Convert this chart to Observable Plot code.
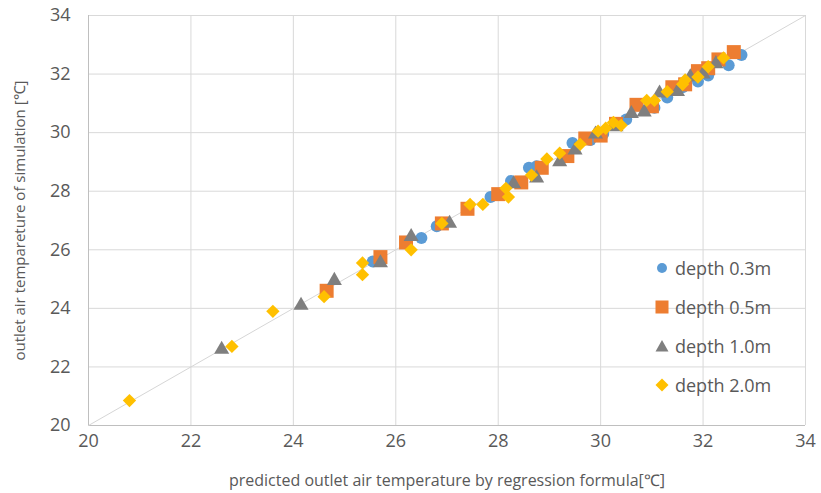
<!DOCTYPE html>
<html><head><meta charset="utf-8">
<script src="https://cdn.jsdelivr.net/npm/d3@7"></script>
<script src="https://cdn.jsdelivr.net/npm/@observablehq/plot@0.6"></script>
<style>
body{margin:0;background:#fff;}
#wrap{position:relative;width:821px;height:493px;font-family:"Open Sans",sans-serif;}
#legend{position:absolute;left:652px;top:248px;}
.row{display:flex;align-items:center;height:39px;font-size:18px;color:#595959;}
.row svg{width:20px;height:20px;margin-right:3px;}
</style></head><body><div id="wrap"></div>
<script>
const seriesNames = ["depth 0.3m","depth 0.5m","depth 1.0m","depth 2.0m"];
const seriesColors = ["#5b9bd5","#ed7d31","#7f7f7f","#ffc000"];
const seriesSymbols = ["circle","square","triangle","diamond2"];
const ticks = [20,22,24,26,28,30,32,34];
const xTitle = "predicted outlet air temperature by regression formula[℃]";
const yTitle = "outlet air tempareture of simulation [℃]";

// [predicted, simulated]
const depth03 = [[25.55,25.6],[26.5,26.4],[26.8,26.8],[27.85,27.8],[28.25,28.35],[28.6,28.8],[28.75,28.85],[29.45,29.65],[29.8,29.75],[30.05,29.95],[30.5,30.45],[31.05,30.85],[31.3,31.2],[31.6,31.55],[31.9,31.75],[32.1,31.95],[32.5,32.3],[32.75,32.65]];
const depth05 = [[24.65,24.6],[25.7,25.75],[26.2,26.25],[26.9,26.9],[27.4,27.4],[28.0,27.9],[28.45,28.3],[28.85,28.8],[29.35,29.2],[29.7,29.8],[30.0,29.9],[30.3,30.3],[30.7,30.95],[31.0,30.9],[31.4,31.55],[31.65,31.65],[31.9,32.1],[32.1,32.2],[32.3,32.5],[32.6,32.75]];
const depth10 = [[22.6,22.6],[24.15,24.1],[24.8,24.95],[25.7,25.55],[26.3,26.45],[27.05,26.9],[28.3,28.25],[28.75,28.45],[29.2,29.0],[29.5,29.4],[29.9,29.95],[30.3,30.2],[30.6,30.65],[30.85,30.7],[31.15,31.35],[31.5,31.4],[31.75,31.9],[32.0,32.0],[32.25,32.35]];
const depth20 = [[20.8,20.85],[22.8,22.7],[23.6,23.9],[24.6,24.4],[25.35,25.55],[25.35,25.15],[26.3,26.0],[26.9,26.9],[27.45,27.55],[27.7,27.55],[28.15,28.1],[28.2,27.8],[28.65,28.55],[28.95,29.1],[29.2,29.3],[29.6,29.6],[29.95,30.05],[30.1,30.15],[30.25,30.35],[30.4,30.25],[30.9,31.1],[31.05,31.1],[31.3,31.4],[31.6,31.65],[31.65,31.8],[31.9,31.9],[32.1,32.25],[32.4,32.55]];
const allSeries = [depth03, depth05, depth10, depth20];
const dotRadius = [6, 7.9, 5.6, 6];

const dotMarks = allSeries.map((s, i) => Plot.dot(s, {
  x: d => d[0], y: d => d[1], symbol: () => seriesSymbols[i],
  fill: seriesColors[i], r: dotRadius[i], stroke: "none"
}));

const chart = Plot.plot({
  width: 821, height: 493,
  marginLeft: 88, marginRight: 16, marginTop: 15, marginBottom: 68,
  style: {fontFamily: "Open Sans, sans-serif", fontSize: "18px", color: "#595959", background: "white", overflow: "visible"},
  x: {domain: [20, 34], label: null},
  y: {domain: [20, 34], label: null},
  symbol: {type: "identity"},
  marks: [
    Plot.gridX(ticks, {stroke: "#d9d9d9", strokeOpacity: 1}),
    Plot.gridY(ticks, {stroke: "#d9d9d9", strokeOpacity: 1}),
    Plot.ruleX([ticks[0]], {stroke: "#bfbfbf"}),
    Plot.ruleY([ticks[0]], {stroke: "#bfbfbf"}),
    Plot.line([ticks[0], ticks[ticks.length-1]], {x: d => d, y: d => d, stroke: "#d6d6d6", strokeWidth: 1}),
    Plot.axisX(ticks, {tickSize: 0, tickPadding: 9, label: null, fill: "#595959", fontSize: 18}),
    Plot.axisY(ticks, {tickSize: 0, tickPadding: 18, label: null, fill: "#595959", fontSize: 18}),
    ...dotMarks,
    Plot.text([xTitle], {frameAnchor: "bottom", dy: 60, fill: "#595959", fontSize: 16, textAnchor: "middle"}),
    Plot.text([yTitle], {frameAnchor: "left", dx: -68, rotate: -90, fill: "#595959", fontSize: 15, textAnchor: "middle"})
  ]
});
const wrap = document.getElementById("wrap");
wrap.appendChild(chart);

const legendShapes = [
  '<circle cx="10" cy="10" r="5"/>',
  '<rect x="3.5" y="3.5" width="13" height="13"/>',
  '<polygon points="10,4 16.5,15.5 3.5,15.5"/>',
  '<polygon points="10,3.5 16.5,10 10,16.5 3.5,10"/>'
];
const legend = document.createElement("div");
legend.id = "legend";
legend.innerHTML = seriesNames.map((n, i) =>
  `<div class="row"><svg viewBox="0 0 20 20" fill="${seriesColors[i]}">${legendShapes[i]}</svg><span>${n}</span></div>`).join("");
wrap.appendChild(legend);
</script></body></html>
